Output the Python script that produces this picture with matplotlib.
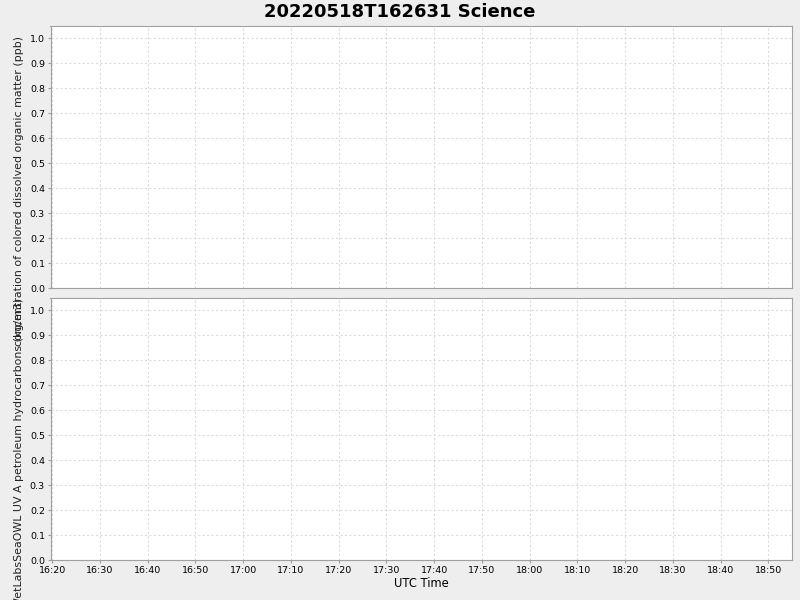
import datetime as dt
import matplotlib
matplotlib.use("Agg")
import matplotlib.pyplot as plt
import matplotlib.dates as mdates


# Chart text
title = "20220518T162631 Science"
top_label = "concentration of colored dissolved organic matter (ppb)"
bottom_label = "WetLabsSeaOWL UV A petroleum hydrocarbons (kg/m3)"
x_label = "UTC Time"

# Time window (no samples were plotted)
t_start = dt.datetime(2022, 5, 18, 16, 19, 40)
t_end = dt.datetime(2022, 5, 18, 18, 54, 58)
times = []
cdom = []
hydrocarbons = []

y_ticks = [0.0, 0.1, 0.2, 0.3, 0.4, 0.5, 0.6, 0.7, 0.8, 0.9, 1.0]
y_max = 1.05


# Figure and panels
fig = plt.figure(figsize=(8, 6), dpi=100, facecolor="#eeeeee")
ax1 = fig.add_axes([50.5/800, 1 - 288/600, 741.5/800, 262/600])
ax2 = fig.add_axes([50.5/800, 1 - 560/600, 741.5/800, 262/600], sharex=ax1)

for ax, yvals, label in [(ax1, cdom, top_label), (ax2, hydrocarbons, bottom_label)]:
    ax.plot(times, yvals, color="red", lw=1)
    ax.set_facecolor("white")
    ax.set_ylim(0, y_max)
    ax.set_yticks(y_ticks)
    ax.set_yticklabels(["%.1f" % v for v in y_ticks])
    ax.grid(True, color="#dcdcdc", linestyle=(0, (2, 2)), linewidth=0.8)
    for s in ax.spines.values():
        s.set_color("#a0a0a0")
    ax.tick_params(colors="#a0a0a0", labelcolor="black", labelsize=6.8,
                   length=2, width=0.8, pad=2)
    ax.set_ylabel(label, fontsize=7.9, color="#222222")

ax1.yaxis.set_label_coords(-0.036, 0.37)
ax2.yaxis.set_label_coords(-0.036, 0.41)

# Shared time axis
ax2.set_xlim(t_start, t_end)
ax2.xaxis.set_major_locator(mdates.MinuteLocator(byminute=range(0, 60, 10)))
ax2.xaxis.set_major_formatter(mdates.DateFormatter("%H:%M"))
plt.setp(ax1.get_xticklabels(), visible=False)
ax1.tick_params(axis="x", length=0)
ax2.set_xlabel(x_label, fontsize=8.3, labelpad=2)

fig.suptitle(title, fontsize=13, fontweight="bold", y=1 - 12/600, va="center")

fig.savefig("out.png", dpi=100, facecolor=fig.get_facecolor())
